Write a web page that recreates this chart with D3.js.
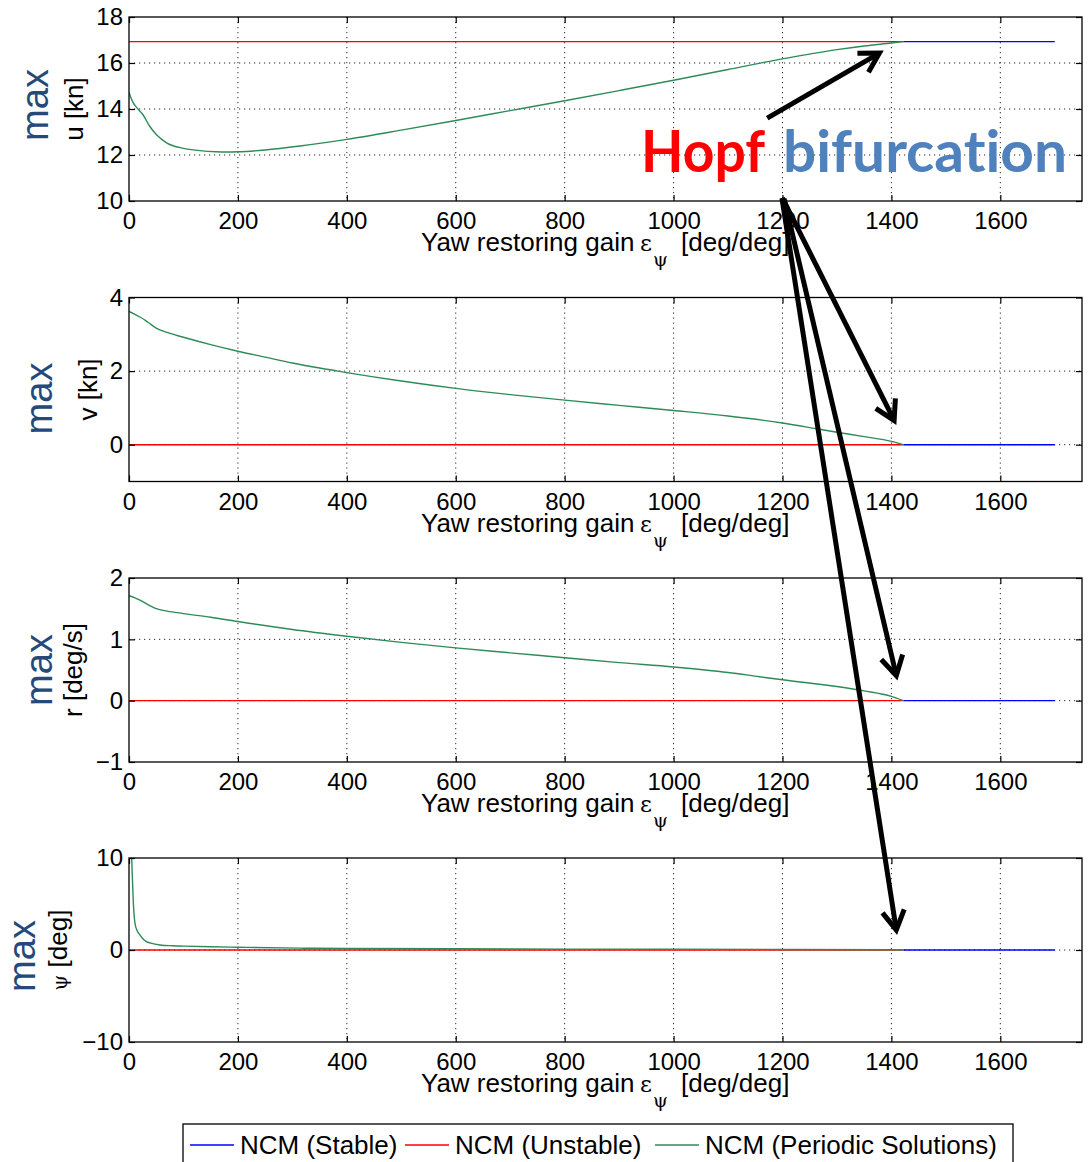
<!DOCTYPE html>
<html>
<head>
<meta charset="utf-8">
<script src="https://cdn.jsdelivr.net/npm/d3@7"></script>
<style>
  body { margin: 0; background: #fff; }
  svg { display: block; }
  text { font-family: "Liberation Sans", Arial, Helvetica, sans-serif; }
</style>
</head>
<body>
<svg id="chart" width="1089" height="1162"></svg>
<script>
// ---- data -------------------------------------------------------------
const gainRange = [0, 1750];
const gainTicks = [0, 200, 400, 600, 800, 1000, 1200, 1400, 1600];
const hopfGain = 1422;
const gainEnd = 1700;

// branch of equilibria: unstable below the Hopf point, stable above it
const unstableGain = [0, hopfGain];
const stableGain = [hopfGain, gainEnd];
const equilibriumU = 16.93;
const equilibriumV = 0;
const equilibriumR = 0;
const equilibriumPsi = 0;

// periodic-solution branch: maximum amplitude over one period
const gainU = [0, 7, 14, 26, 38, 51, 69, 100, 130, 160, 180, 200, 250, 314, 400, 500, 600, 700, 800, 900, 1000, 1100, 1200, 1300, 1350, 1400, 1422];
const uMax  = [14.72, 14.3, 14.07, 13.74, 13.25, 12.87, 12.53, 12.29, 12.19, 12.14, 12.13, 12.14, 12.22, 12.39, 12.68, 13.08, 13.5, 13.93, 14.36, 14.8, 15.25, 15.72, 16.18, 16.58, 16.74, 16.87, 16.93];

const gainV = [0, 10, 20, 30, 40, 50, 70, 100, 150, 200, 250, 300, 400, 500, 600, 700, 800, 900, 1000, 1100, 1200, 1268, 1300, 1350, 1400, 1422];
const vMax  = [3.62, 3.55, 3.47, 3.38, 3.27, 3.17, 3.05, 2.92, 2.72, 2.54, 2.38, 2.22, 1.96, 1.73, 1.53, 1.36, 1.21, 1.07, 0.93, 0.78, 0.59, 0.42, 0.34, 0.22, 0.09, 0];

const gainR = [0, 10, 20, 30, 40, 50, 70, 100, 150, 200, 300, 400, 500, 600, 700, 800, 900, 1000, 1100, 1158, 1200, 1300, 1350, 1400, 1422];
const rMax  = [1.71, 1.68, 1.64, 1.59, 1.54, 1.50, 1.46, 1.42, 1.36, 1.29, 1.16, 1.05, 0.95, 0.86, 0.78, 0.70, 0.62, 0.55, 0.46, 0.39, 0.34, 0.23, 0.16, 0.07, 0];

const gainPsi = [5, 6, 8, 11, 15, 20, 25, 32, 40, 57, 80, 100, 150, 200, 314, 400, 600, 800, 1000, 1200, 1400, 1422];
const psiMax  = [9.9, 8.2, 5.1, 2.9, 2.1, 1.64, 1.25, 0.91, 0.75, 0.55, 0.46, 0.42, 0.35, 0.30, 0.20, 0.17, 0.13, 0.10, 0.08, 0.06, 0.02, 0];

const uTicks = [10, 12, 14, 16, 18];
const vTicks = [0, 2, 4];
const rTicks = [-1, 0, 1, 2];
const psiTicks = [-10, 0, 10];

const legendLabels = ["NCM (Stable)", "NCM (Unstable)", "NCM (Periodic Solutions)"];
const annotationWords = ["Hopf", "bifurcation"];

// ---- layout -----------------------------------------------------------
const colors = { stable: "#0000ff", unstable: "#ff0000", periodic: "#2e8b57",
                 max: "#24497a", hopf: "#ff0000", bif: "#4f81bd" };
const plotLeft = 129, plotRight = 1082, plotH = 184;

const panels = [
  { top: 17,    domain: [10, 18], ticks: uTicks,   gain: gainU,   values: uMax,   eq: equilibriumU,
    label: [{ t: "u [kn]" }], labelX: 83, maxX: 48, maxDy: -4 },
  { top: 297.5, domain: [-1, 4],  ticks: vTicks,   gain: gainV,   values: vMax,   eq: equilibriumV,
    label: [{ t: "v [kn]" }], labelX: 97, maxX: 52, maxDy: 9 },
  { top: 578,   domain: [-1, 2],  ticks: rTicks,   gain: gainR,   values: rMax,   eq: equilibriumR,
    label: [{ t: "r [deg/s]" }], labelX: 82, maxX: 52, maxDy: 0 },
  { top: 858,   domain: [-10, 10], ticks: psiTicks, gain: gainPsi, values: psiMax, eq: equilibriumPsi,
    label: [{ t: "ψ", psi: true }, { t: " [deg]" }], labelX: 67, maxX: 35, maxDy: 6 },
];

const svg = d3.select("#chart");
const x = d3.scaleLinear().domain(gainRange).range([plotLeft, plotRight]);
const fmt = d3.format("");

panels.forEach((p, i) => {
  p.y = d3.scaleLinear().domain(p.domain).range([p.top + plotH, p.top]);
  const g = svg.append("g").attr("class", "panel");

  g.append("clipPath").attr("id", "clip" + i)
    .append("rect").attr("x", plotLeft).attr("y", p.top)
    .attr("width", plotRight - plotLeft).attr("height", plotH);

  // dotted grid
  const grid = g.append("g").attr("stroke", "#000").attr("stroke-width", 1)
    .attr("stroke-dasharray", "1.2,3.8").attr("opacity", 0.85);
  grid.selectAll(".gx").data(gainTicks.filter(t => t > gainRange[0] && t < gainRange[1]))
    .join("line").attr("x1", d => x(d)).attr("x2", d => x(d))
    .attr("y1", p.top).attr("y2", p.top + plotH);
  grid.selectAll(".gy").data(p.ticks.filter(t => t > p.domain[0] && t < p.domain[1]))
    .join("line").attr("y1", d => p.y(d)).attr("y2", d => p.y(d))
    .attr("x1", plotLeft).attr("x2", plotRight);

  // curves
  const plot = g.append("g").attr("clip-path", `url(#clip${i})`).attr("fill", "none");
  const flat = d3.line().x(d => x(d[0])).y(d => p.y(d[1]));
  plot.append("path").datum(unstableGain.map(gv => [gv, p.eq]))
    .attr("d", flat).attr("stroke", colors.unstable).attr("stroke-width", 1.4);
  plot.append("path").datum(stableGain.map(gv => [gv, p.eq]))
    .attr("d", flat).attr("stroke", colors.stable).attr("stroke-width", 1.4);
  const curve = d3.line().curve(d3.curveMonotoneX).x(d => x(d[0])).y(d => p.y(d[1]));
  plot.append("path").datum(p.gain.map((gv, k) => [gv, p.values[k]]))
    .attr("d", curve).attr("stroke", colors.periodic).attr("stroke-width", 1.4);

  // axes with inward ticks on all four sides
  const bottom = g.append("g").attr("transform", `translate(0,${p.top + plotH})`)
    .call(d3.axisBottom(x).tickValues(gainTicks).tickSizeInner(-6).tickSizeOuter(0)
      .tickPadding(11).tickFormat(fmt));
  const left = g.append("g").attr("transform", `translate(${plotLeft},0)`)
    .call(d3.axisLeft(p.y).tickValues(p.ticks).tickSizeInner(-6).tickSizeOuter(0)
      .tickPadding(6).tickFormat(d3.format("")));
  const top = g.append("g").attr("transform", `translate(0,${p.top})`)
    .call(d3.axisTop(x).tickValues(gainTicks).tickSizeInner(-6).tickSizeOuter(0).tickFormat(""));
  const right = g.append("g").attr("transform", `translate(${plotRight},0)`)
    .call(d3.axisRight(p.y).tickValues(p.ticks).tickSizeInner(-6).tickSizeOuter(0).tickFormat(""));
  [bottom, left, top, right].forEach(a => {
    a.select(".domain").remove();
    a.selectAll(".tick line").attr("stroke", "#000").attr("stroke-width", 1.2);
    a.selectAll("text").attr("font-size", 24).attr("fill", "#000")
      .style("font-family", '"Liberation Sans", Arial, sans-serif');
  });

  // frame
  g.append("rect").attr("x", plotLeft).attr("y", p.top)
    .attr("width", plotRight - plotLeft).attr("height", plotH)
    .attr("fill", "none").attr("stroke", "#000").attr("stroke-width", 1.3);

  // x label
  const base = p.top + plotH + 50;
  const xl = g.append("text").attr("font-size", 26).attr("y", base).attr("fill", "#000");
  xl.append("tspan").attr("x", 421).text("Yaw restoring gain");
  xl.append("tspan").attr("x", 640).attr("font-size", 23)
    .style("font-family", '"DejaVu Serif", "Liberation Serif", serif').text("ε");
  xl.append("tspan").attr("x", 653).attr("y", base + 15).attr("font-size", 19)
    .style("font-family", '"DejaVu Serif", "Liberation Serif", serif').text("ψ");
  xl.append("tspan").attr("x", 681).attr("y", base).text("[deg/deg]");

  // y label
  const cy = p.top + plotH / 2;
  const yl = g.append("text").attr("transform", `translate(${p.labelX},${cy}) rotate(-90)`)
    .attr("text-anchor", "middle").attr("font-size", 26).attr("fill", "#000");
  p.label.forEach(s => {
    const ts = yl.append("tspan").text(s.t);
    if (s.psi) ts.attr("font-size", 20).style("font-family", '"DejaVu Serif", serif');
  });
  g.append("text").attr("transform", `translate(${p.maxX},${cy + p.maxDy}) rotate(-90)`)
    .attr("text-anchor", "middle").attr("font-size", 38).attr("fill", colors.max).text("max");
});

// ---- annotation: Hopf bifurcation ---------------------------------------
const P = panels;
const hopfArrows = [
  { from: [0, 1172, 13.6],  to: [0, 1378, 16.43] },
  { from: [0, 1200, 10.13], to: [1, 1405, 0.66] },
  { from: [0, 1203, 10.1],  to: [2, 1409, 0.41] },
  { from: [0, 1199, 10.13], to: [3, 1409, 2.18] },
];
const ann = svg.append("g").attr("stroke", "#000").attr("stroke-width", 5)
  .attr("fill", "none").attr("stroke-linecap", "butt").attr("stroke-linejoin", "miter");
hopfArrows.forEach(a => {
  const x0 = x(a.from[1]), y0 = P[a.from[0]].y(a.from[2]);
  const x1 = x(a.to[1]), y1 = P[a.to[0]].y(a.to[2]);
  const ang = Math.atan2(y0 - y1, x0 - x1);
  const L = 22, h = Math.PI / 6;
  ann.append("line").attr("x1", x0).attr("y1", y0).attr("x2", x1).attr("y2", y1);
  ann.append("path").attr("d",
    `M${x1 + L * Math.cos(ang + h)},${y1 + L * Math.sin(ang + h)}L${x1},${y1}` +
    `L${x1 + L * Math.cos(ang - h)},${y1 + L * Math.sin(ang - h)}`);
});

const hopf = svg.append("text").attr("y", 172).attr("font-size", 57).attr("font-weight", 700)
  .style("font-family", 'Lato, "Open Sans", sans-serif')
  .style("font-variant-ligatures", "none").style("font-feature-settings", '"liga" 0, "dlig" 0');
hopf.append("tspan").attr("x", 641).attr("fill", colors.hopf)
  .attr("textLength", 124).attr("lengthAdjust", "spacingAndGlyphs").text(annotationWords[0]);
hopf.append("tspan").attr("x", 783).attr("fill", colors.bif)
  .attr("textLength", 284).attr("lengthAdjust", "spacingAndGlyphs").text(annotationWords[1]);

// ---- legend -----------------------------------------------------------
const legend = svg.append("g");
legend.append("rect").attr("x", 183).attr("y", 1124).attr("width", 830).attr("height", 60)
  .attr("fill", "#fff").attr("stroke", "#000").attr("stroke-width", 1.3);
const legendItems = [
  { label: legendLabels[0], color: colors.stable,   x: 190 },
  { label: legendLabels[1], color: colors.unstable, x: 405 },
  { label: legendLabels[2], color: colors.periodic, x: 655 },
];
legendItems.forEach(it => {
  legend.append("line").attr("x1", it.x).attr("x2", it.x + 44).attr("y1", 1145).attr("y2", 1145)
    .attr("stroke", it.color).attr("stroke-width", 1.5);
  legend.append("text").attr("x", it.x + 50).attr("y", 1154).attr("font-size", 26)
    .attr("fill", "#000").text(it.label);
});
</script>
</body>
</html>
